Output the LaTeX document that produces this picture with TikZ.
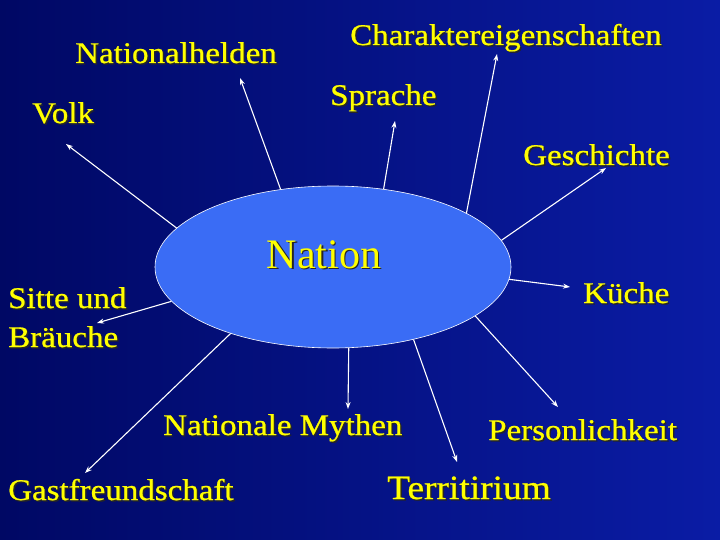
\documentclass[tikz,border=0pt]{standalone}
\usepackage{fontspec}
\setmainfont{Liberation Serif}[FakeStretch=1.1,FakeBold=0.7]
\newfontfamily\nationfont{Liberation Serif}
\usetikzlibrary{arrows.meta,shapes.geometric}
\definecolor{navy}{RGB}{0,8,100}
\definecolor{slideblue}{RGB}{10,28,165}
\definecolor{ovalblue}{RGB}{58,108,245}
\definecolor{gelb}{RGB}{255,255,0}
\newcommand{\shd}[1]{\rlap{\kern1.4pt\raisebox{-1.4pt}{\color{black!85}#1}}#1}

\begin{document}
\begin{tikzpicture}[x=1pt,y=-1pt,
    lbl/.style={text=gelb, inner sep=0pt, anchor=base west, font=\fontsize{30}{39}\selectfont},
    pfeil/.style={draw=white, line width=1.1pt, -{Stealth[length=7pt,width=5pt]}}]
    \fill[left color=navy, right color=slideblue] (0,0) rectangle (720,540);
    % the oval in the middle
    \node[ellipse, draw=white, line width=0.6pt, fill=ovalblue, minimum width=356pt, minimum height=162pt, inner sep=0pt] (nation) at (333,267) {};
    \node[text=gelb, inner sep=0pt, anchor=base, font=\nationfont\fontsize{42}{42}\selectfont] (nationtxt) at (324,268) {\shd{Nation}};
    % labels
    \node[lbl] (helden) at (75,63) {\shd{Nationalhelden}};
    \node[lbl] (charakter) at (350,45) {\shd{Charaktereigenschaften}};
    \node[lbl] (sprache) at (330,105) {\shd{Sprache}};
    \node[lbl] (volk) at (32,123) {\shd{Volk}};
    \node[lbl] (geschichte) at (523,165) {\shd{Geschichte}};
    \node[lbl, align=left] (sitte) at (8,347) {\shd{Sitte und}\\\shd{Bräuche}};
    \node[lbl] (kueche) at (583,303) {\shd{Küche}};
    \node[lbl] (mythen) at (163,435) {\shd{Nationale Mythen}};
    \node[lbl] (person) at (488,440) {\shd{Personlichkeit}};
    \node[lbl] (gast) at (8,500) {\shd{Gastfreundschaft}};
    \node[lbl, font=\fontsize{34}{40}\selectfont] (terr) at (387,499) {\shd{Territirium}};
    % arrow tips
    \coordinate (volk-tip) at (66,144);
    \coordinate (helden-tip) at (240,78);
    \coordinate (sprache-tip) at (395,121);
    \coordinate (charakter-tip) at (497,54);
    \coordinate (geschichte-tip) at (606,168);
    \coordinate (kueche-tip) at (570,287);
    \coordinate (person-tip) at (558,407);
    \coordinate (terr-tip) at (457,462);
    \coordinate (mythen-tip) at (348,409);
    \coordinate (gast-tip) at (85,473);
    \coordinate (sitte-tip) at (97,323);
    \draw[pfeil] (nation.166.7) -- (volk-tip);
    \draw[pfeil] (nation.124.7) -- (helden-tip);
    \draw[pfeil] (nation.57.8) -- (sprache-tip);
    \draw[pfeil] (nation.22.7) -- (charakter-tip);
    \draw[pfeil] (nation.9) -- (geschichte-tip);
    \draw[pfeil] (nation.-4.7) -- (kueche-tip);
    \draw[pfeil] (nation.-19.7) -- (person-tip);
    \draw[pfeil] (nation.-42.4) -- (terr-tip);
    \draw[pfeil] (nation.-79.5) -- (mythen-tip);
    \draw[pfeil] (nation.-147) -- (gast-tip);
    \draw[pfeil] (nation.-168.4) -- (sitte-tip);
\end{tikzpicture}
\end{document}
